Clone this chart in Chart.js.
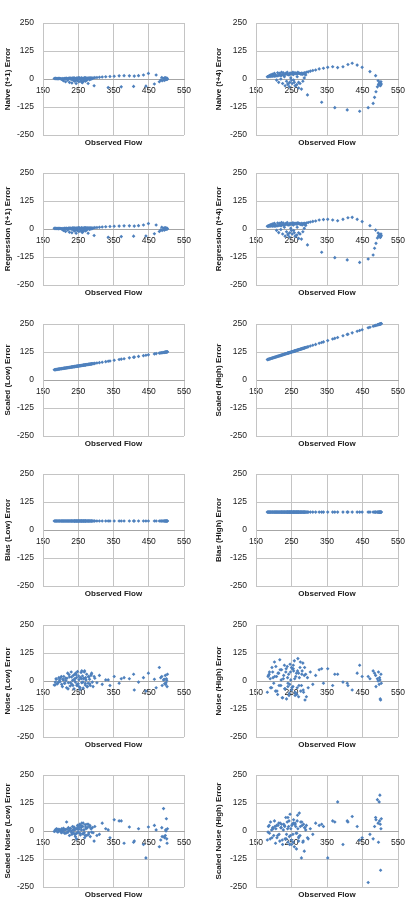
<!DOCTYPE html>
<html>
<head>
<meta charset="utf-8">
<script src="https://cdn.jsdelivr.net/npm/chart.js@4.4.1/dist/chart.umd.min.js"></script>
<style>
  html, body { margin: 0; padding: 0; background: #ffffff; overflow: hidden; }
  body { width: 410px; height: 904px; position: relative; }
  .panel { position: absolute; width: 205px; height: 150px; }
</style>
</head>
<body>
<script>
// ---------------- DATA ----------------
const xTickValues = [150, 250, 350, 450, 550];
const yTickValues = [-250, -125, 0, 125, 250];
const xTitle = 'Observed Flow';

// observed flow (shared x values of every panel)
const observedFlow = [
  182, 185, 188, 191, 195, 198, 202, 205, 208, 211,
  214, 217, 220, 222, 225, 227, 230, 232, 234, 236,
  238, 240, 242, 244, 246, 248, 250, 252, 254, 256,
  258, 260, 262, 264, 266, 268, 270, 272, 274, 276,
  278, 280, 282, 284, 286, 288, 290, 245, 255, 265,
  295, 335, 372, 407, 442, 466, 480,
  484, 488, 492, 495, 497, 499, 500, 502, 503, 501, 498, 494,
  487, 471, 449, 435, 421, 409, 395, 380, 366, 352, 340, 328, 318, 310, 303, 297, 292,
  287, 283, 279, 275, 271, 267, 263, 259, 255, 251,
  247, 243, 239, 235, 231, 228, 224, 221, 218, 215,
  212, 209, 206, 203, 200, 197, 194, 190, 187, 184,
  240, 250, 260, 270
];

const naiveT1Error = [
  2, 3, 2, 1, 3, 2, 0, -3, -8, 2,
  -12, 3, -5, 2, -15, 4, -2, -18, 3, -6,
  5, -10, 2, -20, 4, -4, 3, -12, 5, 0,
  -8, 4, -16, 3, -2, 5, -10, 4, -6, 3,
  -20, 2, -3, 4, -1, 3, 2, -5, 1, -8,
  -30, -38, -35, -33, -32, -22, -12,
  -5, -8, 2, 5, -3, 4, -2, 3, -1, 0, 5, -6,
  7, 18, 25, 18, 15, 13, 14, 15, 14, 12, 11, 10, 9, 8, 7, 6, 5,
  4, 5, 4, 3, 5, 4, 2, 4, 3, 5,
  4, 2, 3, 4, 3, 2, 4, 1, 2, 3,
  2, 1, 2, 0, 1, 2, 1, 2, 1, 2,
  -4, -10, -14, -6
];

const naiveT4Error = [
  10, 12, 15, 18, 20, 22, 25, 15, -5, 28,
  -15, 26, 0, 30, -20, 28, 10, -30, 25, -10,
  30, -25, 20, -35, 27, 5, 25, -20, 30, -5,
  -15, 28, -30, 26, 10, 30, -40, 25, -20, 22,
  -45, 20, -10, 24, 5, 22, 18, -15, 20, -25,
  -71, -104, -128, -138, -144, -128, -109,
  -82, -57, -35, -25, -20, -15, -30, -12, -22, -28, -18, -8,
  15, 33, 52, 62, 70, 65, 55, 51, 55, 52, 48, 45, 40, 38, 35, 32, 30,
  28, 25, 27, 24, 26, 23, 22, 25, 20, 24,
  22, 18, 20, 22, 19, 17, 20, 15, 16, 18,
  15, 14, 16, 12, 14, 12, 13, 11, 12, 10,
  -20, -5, -30, -15
];

const regressionT1Error = [
  3, 3, 2, 2, 3, 2, 1, -2, -7, 3,
  -11, 3, -4, 3, -14, 4, -1, -17, 4, -5,
  5, -9, 3, -19, 4, -3, 4, -11, 5, 1,
  -7, 5, -15, 4, -1, 5, -9, 5, -5, 4,
  -19, 3, -2, 4, 0, 3, 2, -4, 2, -7,
  -29, -37, -34, -32, -31, -21, -11,
  -4, -7, 3, 5, -2, 4, -1, 3, 0, 1, 5, -5,
  8, 18, 24, 18, 15, 13, 14, 14, 13, 12, 11, 10, 9, 8, 7, 6, 5,
  4, 5, 4, 4, 5, 4, 3, 4, 3, 5,
  4, 3, 3, 4, 3, 2, 4, 2, 2, 3,
  2, 2, 2, 1, 2, 2, 1, 2, 2, 2,
  -3, -9, -13, -5
];

const regressionT4Error = [
  12, 14, 16, 19, 21, 23, 25, 14, -6, 27,
  -16, 26, -2, 29, -22, 27, 8, -32, 24, -12,
  29, -27, 19, -36, 26, 3, 24, -22, 28, -7,
  -17, 26, -32, 25, 8, 28, -42, 23, -22, 20,
  -45, 18, -12, 22, 3, 20, 16, -17, 18, -27,
  -71, -104, -128, -138, -149, -134, -116,
  -86, -64, -40, -32, -28, -25, -38, -22, -30, -35, -27, -18,
  -5, 15, 33, 43, 52, 50, 43, 37, 40, 43, 42, 40, 36, 34, 31, 29, 27,
  26, 24, 25, 23, 25, 22, 21, 24, 19, 23,
  21, 18, 19, 21, 18, 17, 19, 15, 16, 17,
  15, 14, 16, 13, 14, 13, 14, 12, 13, 12,
  -22, -7, -32, -17
];

const scaledLowError = [
  45.5, 46.3, 47, 47.8, 48.8, 49.5, 50.5, 51.3, 52, 52.8,
  53.5, 54.3, 55, 55.5, 56.3, 56.8, 57.5, 58, 58.5, 59,
  59.5, 60, 60.5, 61, 61.5, 62, 62.5, 63, 63.5, 64,
  64.5, 65, 65.5, 66, 66.5, 67, 67.5, 68, 68.5, 69,
  69.5, 70, 70.5, 71, 71.5, 72, 72.5, 61.3, 63.8, 66.3,
  73.8, 83.8, 93, 101.8, 110.5, 116.5, 120,
  121, 122, 123, 123.8, 124.3, 124.8, 125, 125.5, 125.8, 125.3, 124.5, 123.5,
  121.8, 117.8, 112.3, 108.8, 105.3, 102.3, 98.8, 95, 91.5, 88, 85, 82, 79.5, 77.5, 75.8, 74.3, 73,
  71.8, 70.8, 69.8, 68.8, 67.8, 66.8, 65.8, 64.8, 63.8, 62.8,
  61.8, 60.8, 59.8, 58.8, 57.8, 57, 56, 55.3, 54.5, 53.8,
  53, 52.3, 51.5, 50.8, 50, 49.3, 48.5, 47.5, 46.8, 46,
  60, 62.5, 65, 67.5
];

const scaledHighError = [
  91, 92.5, 94, 95.5, 97.5, 99, 101, 102.5, 104, 105.5,
  107, 108.5, 110, 111, 112.5, 113.5, 115, 116, 117, 118,
  119, 120, 121, 122, 123, 124, 125, 126, 127, 128,
  129, 130, 131, 132, 133, 134, 135, 136, 137, 138,
  139, 140, 141, 142, 143, 144, 145, 122.5, 127.5, 132.5,
  147.5, 167.5, 186, 203.5, 221, 233, 240,
  242, 244, 246, 247.5, 248.5, 249.5, 250, 251, 251.5, 250.5, 249, 247,
  243.5, 235.5, 224.5, 217.5, 210.5, 204.5, 197.5, 190, 183, 176, 170, 164, 159, 155, 151.5, 148.5, 146,
  143.5, 141.5, 139.5, 137.5, 135.5, 133.5, 131.5, 129.5, 127.5, 125.5,
  123.5, 121.5, 119.5, 117.5, 115.5, 114, 112, 110.5, 109, 107.5,
  106, 104.5, 103, 101.5, 100, 98.5, 97, 95, 93.5, 92,
  120, 125, 130, 135
];

const biasLowError = [
  40, 40, 40, 40, 40, 40, 40, 40, 40, 40,
  40, 40, 40, 40, 40, 40, 40, 40, 40, 40,
  40, 40, 40, 40, 40, 40, 40, 40, 40, 40,
  40, 40, 40, 40, 40, 40, 40, 40, 40, 40,
  40, 40, 40, 40, 40, 40, 40, 40, 40, 40,
  40, 40, 40, 40, 40, 40, 40,
  40, 40, 40, 40, 40, 40, 40, 40, 40, 40, 40, 40,
  40, 40, 40, 40, 40, 40, 40, 40, 40, 40, 40, 40, 40, 40, 40, 40, 40,
  40, 40, 40, 40, 40, 40, 40, 40, 40, 40,
  40, 40, 40, 40, 40, 40, 40, 40, 40, 40,
  40, 40, 40, 40, 40, 40, 40, 40, 40, 40,
  40, 40, 40, 40
];

const biasHighError = [
  80, 80, 80, 80, 80, 80, 80, 80, 80, 80,
  80, 80, 80, 80, 80, 80, 80, 80, 80, 80,
  80, 80, 80, 80, 80, 80, 80, 80, 80, 80,
  80, 80, 80, 80, 80, 80, 80, 80, 80, 80,
  80, 80, 80, 80, 80, 80, 80, 80, 80, 80,
  80, 80, 80, 80, 80, 80, 80,
  80, 80, 80, 80, 80, 80, 80, 80, 80, 80, 80, 80,
  80, 80, 80, 80, 80, 80, 80, 80, 80, 80, 80, 80, 80, 80, 80, 80, 80,
  80, 80, 80, 80, 80, 80, 80, 80, 80, 80,
  80, 80, 80, 80, 80, 80, 80, 80, 80, 80,
  80, 80, 80, 80, 80, 80, 80, 80, 80, 80,
  80, 80, 80, 80
];

const noiseLowError = [
  -18, -5, 8, -12, 15, -3, 20, -25, 5, -10,
  12, -30, 35, -8, 18, -22, 40, -15, 3, 25,
  -35, 10, -5, 28, -20, 42, -12, 6, -28, 15,
  38, -8, 22, -32, 12, 45, -18, 5, 30, -25,
  -10, 18, 8, -20, 25, 35, -5, 15, -38, 10,
  20, 5, 10, 30, -45, 8, 60,
  15, -20, 5, -12, 25, -8, 10, -25, 30, 3, -15, 8,
  20, -30, 35, 15, -5, -40, 10, 15, -10, 20, -20, 5, -15, 25, -8, 12, -25,
  30, -12, 20, -25, 15, 40, -5, 10, -30, 22,
  -15, 35, 5, -20, 18, -8, 28, -35, 12, 2,
  -10, 20, 8, -15, 15, 5, -5, -12, 10, -18,
  30, -22, 45, -10
];

const noiseHighError = [
  -50, 25, 40, -30, 60, 15, 85, -45, 20, -60,
  35, 95, -20, 50, -75, 10, 70, -35, 40, -80,
  65, -10, 30, -55, 75, 5, -40, 55, -25, 45,
  90, -65, 20, 35, -30, 100, -70, 15, 60, -45,
  -20, 45, 80, -50, 25, -85, 30, -15, 55, -60,
  15, 55, 30, -10, 70, 20, 45,
  35, -25, 10, 40, -15, 5, -80, 30, -10, -85, 15, 0,
  25, 10, 20, 35, -40, -20, -5, 30, -20, 55, -10, 50, 25, -15, 40, -30, -70,
  60, -40, 30, 85, -20, 45, -55, 10, 70, -30,
  40, -65, 15, 55, -35, 25, -75, 5, 50, -20,
  35, -45, 65, 20, -10, 40, -30, 10, 30, 20,
  -25, 60, -50, 35
];

const scaledNoiseLowError = [
  -2, 5, 10, -4, 8, 2, -8, 3, 12, -10,
  6, 40, -5, 15, -20, 10, 0, -15, 20, -8,
  18, 5, -25, 12, -10, 25, -5, 8, 30, -18,
  15, 22, -12, 35, 5, -30, 28, 10, -20, 15,
  30, -8, 20, -25, 10, -5, 15, -35, 25, -12,
  -45, 5, 45, -50, -120, 25, -70,
  -40, -25, 100, -30, -20, 0, 55, -55, 10, -35, 5, -25,
  15, 5, 18, -60, 10, -45, 18, -55, 45, 50, -30, 10, 35, -15, -20, 20, -8,
  12, 25, -15, 30, 18, -8, 20, 5, -10, 15,
  8, -12, 10, 5, -8, 12, 3, -5, 8, -10,
  6, 2, -4, 10, 0, 5, -3, 8, 4, 0,
  -15, 20, 35, -20
];

const scaledNoiseHighError = [
  -40, 20, -10, 40, -30, 10, 45, -55, 25, -20,
  35, -45, 15, 30, -60, 5, 25, -35, 60, -15,
  40, -50, 20, -25, 75, 10, -40, 30, -15, 50,
  -70, 35, 20, -80, 45, 10, -30, 80, -20, 40,
  -120, 25, -50, 30, -90, 15, 5, -60, 35, -10,
  -30, 30, 40, 45, -40, -230, -35,
  20, 50, 140, -50, 130, 160, 30, 10, 55, -175, 45, 35,
  60, -15, -30, 20, 65, 40, -60, 130, 45, -120, 20, 25, 35, -15, 10, -35, 25,
  15, -45, 40, 20, -25, 70, -10, 30, -50, 25,
  -20, 45, 10, -35, 20, 30, -40, 15, 35, -15,
  25, -30, 10, 20, -20, 15, 5, -35, 25, -5,
  60, -60, 30, -45
];

const panelTitles = [
  'Naive (t+1) Error', 'Naive (t+4) Error',
  'Regression (t+1) Error', 'Regression (t+4) Error',
  'Scaled (Low) Error', 'Scaled (High) Error',
  'Bias (Low) Error', 'Bias (High) Error',
  'Noise (Low) Error', 'Noise (High) Error',
  'Scaled Noise (Low) Error', 'Scaled Noise (High) Error'
];
const panelSeries = [
  naiveT1Error, naiveT4Error,
  regressionT1Error, regressionT4Error,
  scaledLowError, scaledHighError,
  biasLowError, biasHighError,
  noiseLowError, noiseHighError,
  scaledNoiseLowError, scaledNoiseHighError
];

// ---------------- LAYOUT / STYLE ----------------
const rowTops = [10, 160, 311, 461, 612, 762];
const FONT = "'Liberation Sans', Arial, sans-serif";
const GRID = '#c4c4c4';
const AXIS = '#a6a6a6';
const TEXT = '#1a1a1a';
const MARK = '#4f81bd';

function makePanel(idx) {
  const col = idx % 2, row = Math.floor(idx / 2);
  const div = document.createElement('div');
  div.className = 'panel';
  div.style.left = (col * 205) + 'px';
  div.style.top = rowTops[row] + 'px';
  const cv = document.createElement('canvas');
  cv.width = 205; cv.height = 150;
  cv.style.width = '205px'; cv.style.height = '150px';
  div.appendChild(cv);
  document.body.appendChild(div);

  const values = panelSeries[idx];
  const pts = observedFlow.map((x, i) => ({ x: x, y: values[i] }));
  const yAxisWidth = col ? 51 : 43;
  const titlePad = col ? 9 : 3;

  new Chart(cv.getContext('2d'), {
    type: 'scatter',
    data: {
      datasets: [{
        data: pts,
        xAxisID: 'x', yAxisID: 'y',
        pointStyle: 'rectRot',
        pointRadius: 1.8,
        pointBorderWidth: 0,
        pointBackgroundColor: MARK,
        pointBorderColor: MARK,
        clip: false
      }]
    },
    options: {
      responsive: false,
      animation: false,
      devicePixelRatio: 1,
      events: [],
      layout: { padding: { top: 13, right: col ? 12 : 21, bottom: 0, left: 0 } },
      plugins: { legend: { display: false }, tooltip: { enabled: false } },
      scales: {
        x: {
          type: 'linear',
          position: { y: 0 },
          min: xTickValues[0], max: xTickValues[xTickValues.length - 1],
          afterBuildTicks: s => { s.ticks = xTickValues.map(v => ({ value: v })); },
          ticks: { padding: 7, color: TEXT, font: { family: FONT, size: 8.5 }, maxRotation: 0, autoSkip: false },
          grid: { color: GRID, lineWidth: 1, drawTicks: false },
          border: { color: AXIS, width: 1 },
          afterFit: s => { s.paddingLeft = 0; s.paddingRight = 0; s.paddingTop = 0; s.paddingBottom = 0; }
        },
        xt: {
          type: 'linear',
          position: 'bottom',
          min: xTickValues[0], max: xTickValues[xTickValues.length - 1],
          ticks: { display: false },
          grid: { display: false },
          border: { display: false },
          title: { display: true, text: xTitle, color: TEXT, font: { family: FONT, size: 8, weight: 'bold' }, padding: { top: 0, bottom: 12 } },
          afterFit: s => { s.height = 25; s.paddingLeft = 0; s.paddingRight = 0; }
        },
        y: {
          type: 'linear',
          position: 'left',
          min: yTickValues[0], max: yTickValues[yTickValues.length - 1],
          afterBuildTicks: s => { s.ticks = yTickValues.map(v => ({ value: v })); },
          ticks: { padding: 9, color: TEXT, font: { family: FONT, size: 8.5 } },
          grid: { color: GRID, lineWidth: 1, drawTicks: false },
          border: { color: GRID, width: 1 },
          title: { display: true, text: panelTitles[idx], color: TEXT, font: { family: FONT, size: 8, weight: 'bold' }, padding: { top: titlePad, bottom: 0 } },
          afterFit: s => { s.width = yAxisWidth; s.paddingTop = 0; s.paddingBottom = 0; }
        }
      }
    }
  });
}

for (let i = 0; i < 12; i++) makePanel(i);
</script>
</body>
</html>
